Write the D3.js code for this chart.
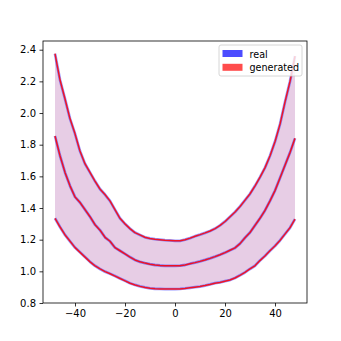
<!DOCTYPE html>
<html><head><meta charset="utf-8">
<script src="https://cdn.jsdelivr.net/npm/d3@7"></script>
<style>body{margin:0;background:#fff}svg{display:block}text{font-family:"DejaVu Sans",sans-serif}</style>
</head><body><svg id="c" width="341" height="341"></svg>
<script>
const xs = d3.range(-48, 49, 2);
const upper = [2.375,2.21,2.09,1.965,1.87,1.76,1.68,1.625,1.57,1.52,1.485,1.445,1.39,1.335,1.30,1.27,1.245,1.23,1.215,1.208,1.203,1.2,1.197,1.195,1.193,1.193,1.2,1.21,1.222,1.232,1.243,1.255,1.27,1.29,1.315,1.345,1.375,1.41,1.45,1.49,1.54,1.595,1.655,1.73,1.82,1.93,2.07,2.2,2.36];
const middle = [1.855,1.73,1.625,1.54,1.47,1.435,1.39,1.345,1.295,1.26,1.215,1.19,1.15,1.13,1.11,1.09,1.072,1.06,1.052,1.045,1.04,1.037,1.035,1.035,1.035,1.036,1.04,1.048,1.055,1.063,1.072,1.082,1.093,1.105,1.118,1.133,1.148,1.175,1.212,1.245,1.29,1.335,1.385,1.445,1.51,1.59,1.67,1.75,1.84];
const lower = [1.335,1.28,1.23,1.19,1.15,1.12,1.09,1.06,1.035,1.015,0.998,0.985,0.97,0.955,0.94,0.925,0.914,0.905,0.898,0.893,0.89,0.889,0.888,0.888,0.888,0.889,0.892,0.896,0.9,0.904,0.91,0.917,0.925,0.93,0.938,0.945,0.958,0.975,0.993,1.015,1.035,1.068,1.097,1.13,1.16,1.195,1.235,1.275,1.33];
const xTicks = [-40,-20,0,20,40];
const yTicks = [0.8,1.0,1.2,1.4,1.6,1.8,2.0,2.2,2.4];
const legendLabels = ["real","generated"];
const seriesColors = ["#0000ff","#ff0000"];

const L=43,R=307,T=41,B=303;
const svg=d3.select("#c");
const x=d3.scaleLinear().domain([-52.8,52.8]).range([L,R]);
const y=d3.scaleLinear().domain([0.8,2.455]).range([B,T]);

const area=d3.area().x((d,i)=>x(xs[i])).y0((d,i)=>y(lower[i])).y1((d,i)=>y(upper[i]));
const line=arr=>d3.line().x((d,i)=>x(xs[i])).y(d=>y(d))(arr);
const g=svg.append("g");
seriesColors.forEach(c=>{
  g.append("path").attr("d",area(xs)).attr("fill",c).attr("fill-opacity",0.1);
});
[upper,middle,lower].forEach(arr=>{
  g.append("path").attr("d",line(arr)).attr("fill","none").attr("stroke",seriesColors[0]).attr("stroke-opacity",0.4).attr("stroke-width",2.8).attr("stroke-linejoin","round");
});
[upper,middle,lower].forEach(arr=>{
  g.append("path").attr("d",line(arr)).attr("fill","none").attr("stroke",seriesColors[1]).attr("stroke-opacity",0.85).attr("stroke-width",1.5).attr("stroke-linejoin","round");
});

const fmtX=d=>(d<0?"\u2212":"")+Math.abs(d);
const ax=svg.append("g").attr("transform",`translate(0,${B})`).call(d3.axisBottom(x).tickValues(xTicks).tickFormat(fmtX).tickSize(3.5).tickPadding(3.5));
const ay=svg.append("g").attr("transform",`translate(${L},0)`).call(d3.axisLeft(y).tickValues(yTicks).tickFormat(d3.format(".1f")).tickSize(3.5).tickPadding(3.5));
[ax,ay].forEach(a=>{a.select(".domain").remove();a.selectAll("line").attr("stroke","#000").attr("stroke-width",0.8);a.selectAll("text").attr("font-size",10).attr("fill","#000").attr("font-family","DejaVu Sans");});
svg.append("rect").attr("x",L).attr("y",T).attr("width",R-L).attr("height",B-T).attr("fill","none").attr("stroke","#000").attr("stroke-width",0.8);

const lg=svg.append("g");
lg.append("rect").attr("x",219).attr("y",45).attr("width",83).attr("height",31).attr("rx",2).attr("fill","#fff").attr("fill-opacity",0.8).attr("stroke","#cccccc").attr("stroke-width",0.8);
legendLabels.forEach((t,i)=>{
  lg.append("rect").attr("x",222.5).attr("y",50+i*13.8).attr("width",20).attr("height",7).attr("fill",seriesColors[i]).attr("fill-opacity",0.7);
  lg.append("text").attr("x",249.5).attr("y",57.5+i*13.8).attr("font-size",9.6).attr("fill","#000").text(t);
});
</script></body></html>
